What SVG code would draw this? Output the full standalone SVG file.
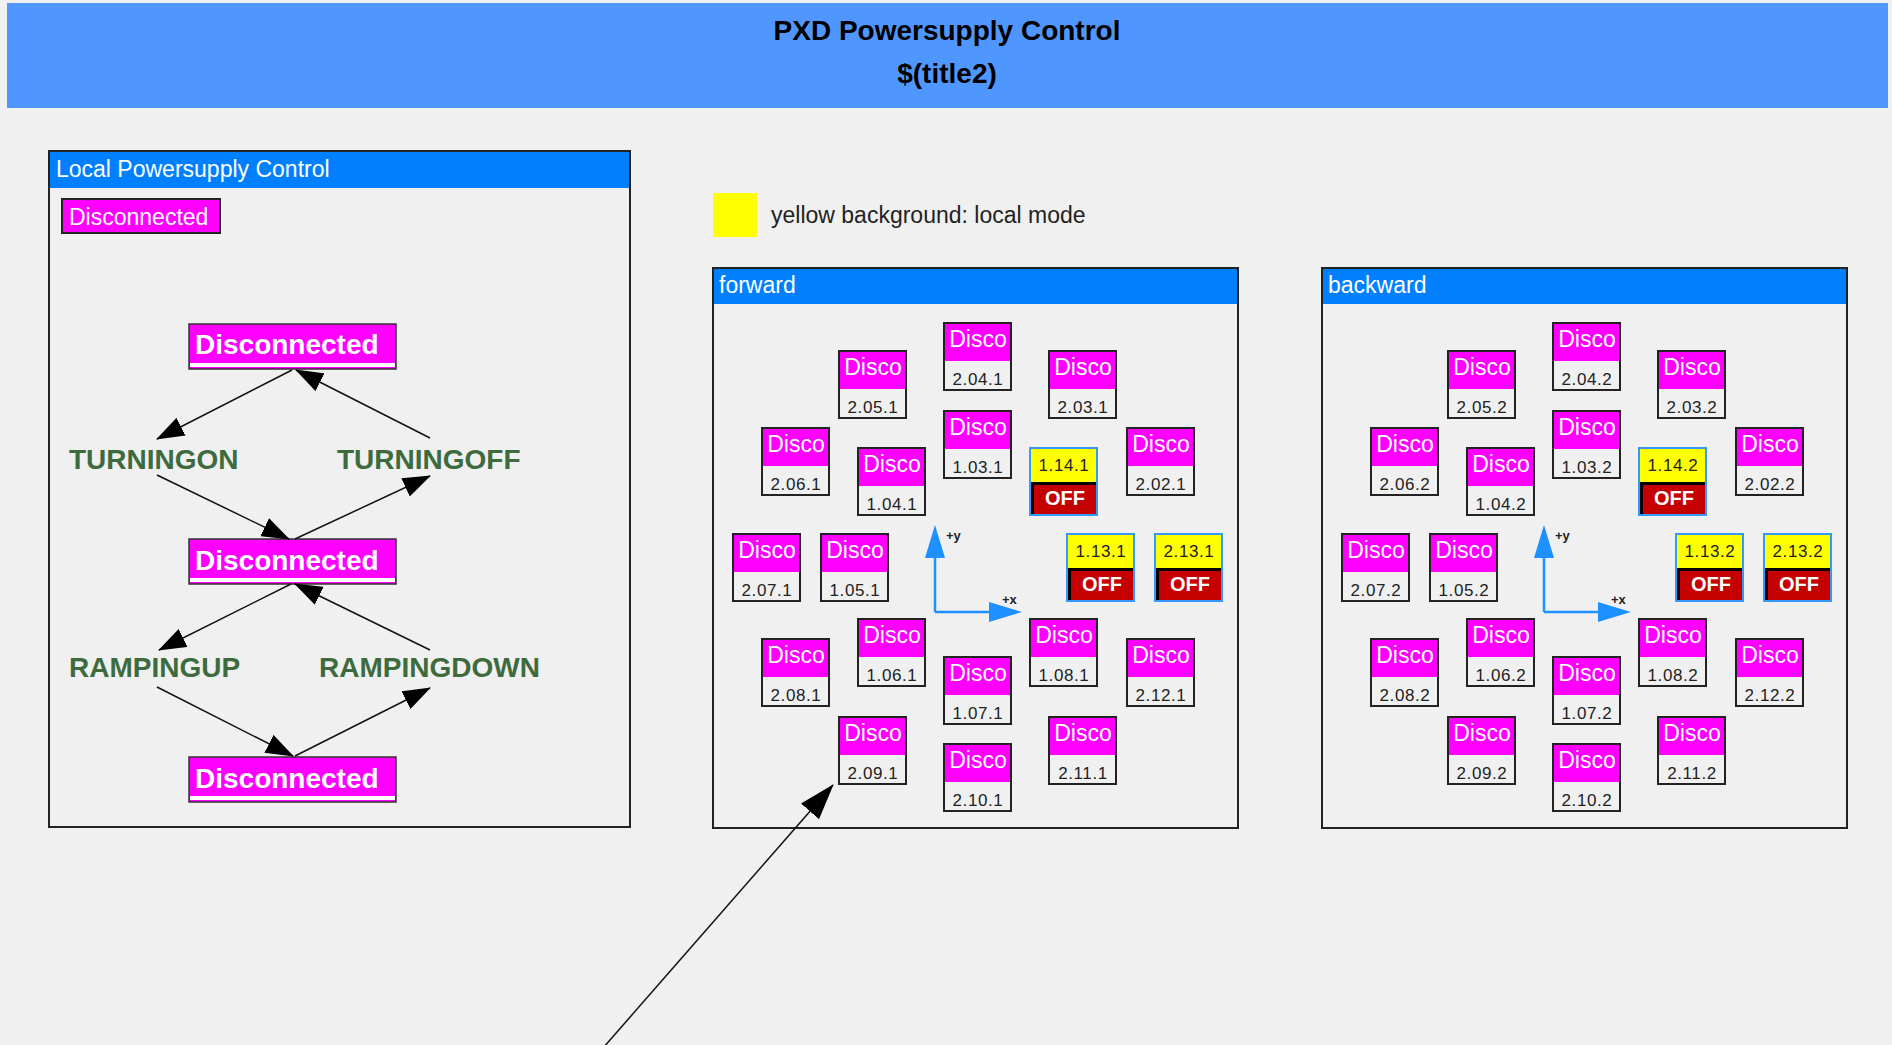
<svg xmlns="http://www.w3.org/2000/svg" xmlns:xlink="http://www.w3.org/1999/xlink" width="1892" height="1045" viewBox="0 0 1892 1045">
<style>
text{font-family:"Liberation Sans",Arial,sans-serif}
.frame{fill:none;stroke:#222;stroke-width:2}
.hdr{fill:#0080ff}
.hdrt{fill:#fff;font-size:23px}
.dt{fill:#fff;font-size:23px;text-anchor:middle}
.num{fill:#222;font-size:17px;text-anchor:middle;letter-spacing:0.6px}
.off{fill:#fff;font-size:20px;font-weight:bold;text-anchor:middle}
.state{fill:#3d6b3d;font-size:28px;font-weight:bold}
.big{fill:#fff;font-size:28px;font-weight:bold}
.conn{stroke:#111;stroke-width:1.5;fill:none}
.axis{stroke:#1e90ff;stroke-width:2.5;fill:none}
.axhead{fill:#1e90ff}
.axl{fill:#222;font-size:13px;font-weight:bold}
</style>
<defs>
<marker id="arr" markerUnits="userSpaceOnUse" markerWidth="28" markerHeight="20" viewBox="0 0 28 20" refX="27" refY="10" orient="auto"><path d="M0,0 L28,10 L0,20 z" fill="#000"/></marker>
<marker id="arrBig" markerUnits="userSpaceOnUse" markerWidth="36" markerHeight="24" viewBox="0 0 36 24" refX="35" refY="12" orient="auto"><path d="M0,0 L36,12 L0,24 z" fill="#000"/></marker>
<g id="disco"><rect x="1" y="1" width="67" height="67" fill="#f0f0f0" stroke="#222" stroke-width="2"/><rect x="2" y="2" width="65" height="37" fill="#ff00ff"/></g>
<g id="offbox"><rect x="1" y="1" width="67" height="67" fill="#ffff00" stroke="#3399ff" stroke-width="2"/><rect x="2" y="35" width="65" height="32" fill="#000"/><rect x="5" y="38" width="62" height="29" fill="#c40000"/></g>
<g id="bigbox"><rect x="189" y="0" width="207" height="45" fill="#ff00ff" stroke="#333" stroke-width="1.5"/><rect x="190" y="39" width="205" height="4" fill="#fff"/></g>
</defs>
<rect x="0" y="0" width="1892" height="1045" fill="#f0f0f0"/>
<g id="title">
<rect x="7" y="3" width="1881" height="105" fill="#5096ff"/>
<text x="947" y="40" text-anchor="middle" font-size="28" font-weight="bold" fill="#000">PXD Powersupply Control</text>
<text x="947" y="83" text-anchor="middle" font-size="28" font-weight="bold" fill="#000">$(title2)</text>
</g>
<g id="localPanel">
<rect class="frame" x="49" y="151" width="581" height="676"/>
<rect class="hdr" x="50" y="152" width="579" height="36"/>
<text class="hdrt" x="56" y="177">Local Powersupply Control</text>
</g>
<g id="localStatus">
<rect x="62" y="199" width="158" height="34" fill="#ff00ff" stroke="#222" stroke-width="2"/>
<text x="69" y="225" fill="#fff" font-size="23">Disconnected</text>
</g>
<g id="state1" transform="translate(0,324)"><use xlink:href="#bigbox"/><text class="big" x="195" y="30">Disconnected</text></g>
<g id="state2" transform="translate(0,539)"><use xlink:href="#bigbox"/><text class="big" x="195" y="31">Disconnected</text></g>
<g id="state3" transform="translate(0,757)"><use xlink:href="#bigbox"/><text class="big" x="195" y="31">Disconnected</text></g>
<g id="turningon"><text class="state" x="69" y="469">TURNINGON</text></g>
<g id="turningoff"><text class="state" x="337" y="469">TURNINGOFF</text></g>
<g id="rampingup"><text class="state" x="69" y="677">RAMPINGUP</text></g>
<g id="rampingdown"><text class="state" x="319" y="677">RAMPINGDOWN</text></g>
<g id="legend">
<rect x="713" y="193" width="44" height="44" fill="#ffff00"/>
<text x="771" y="223" fill="#222" font-size="23">yellow background: local mode</text>
</g>
<g id="forwardPanel">
<rect class="frame" x="713" y="268" width="525" height="560"/>
<rect class="hdr" x="714" y="269" width="523" height="35"/>
<text class="hdrt" x="719" y="293">forward</text>
</g>
<g id="backwardPanel">
<rect class="frame" x="1322" y="268" width="525" height="560"/>
<rect class="hdr" x="1323" y="269" width="523" height="35"/>
<text class="hdrt" x="1328" y="293">backward</text>
</g>
<g id="f-2.04.1" transform="translate(943,322)"><use xlink:href="#disco"/><text class="dt" x="35" y="25">Disco</text><text class="num" x="35" y="63">2.04.1</text></g>
<g id="f-2.05.1" transform="translate(838,350)"><use xlink:href="#disco"/><text class="dt" x="35" y="25">Disco</text><text class="num" x="35" y="63">2.05.1</text></g>
<g id="f-2.03.1" transform="translate(1048,350)"><use xlink:href="#disco"/><text class="dt" x="35" y="25">Disco</text><text class="num" x="35" y="63">2.03.1</text></g>
<g id="f-1.03.1" transform="translate(943,410)"><use xlink:href="#disco"/><text class="dt" x="35" y="25">Disco</text><text class="num" x="35" y="63">1.03.1</text></g>
<g id="f-2.06.1" transform="translate(761,427)"><use xlink:href="#disco"/><text class="dt" x="35" y="25">Disco</text><text class="num" x="35" y="63">2.06.1</text></g>
<g id="f-1.04.1" transform="translate(857,447)"><use xlink:href="#disco"/><text class="dt" x="35" y="25">Disco</text><text class="num" x="35" y="63">1.04.1</text></g>
<g id="f-1.14.1" transform="translate(1029,447)"><use xlink:href="#offbox"/><text class="num" x="35" y="24" fill="#111">1.14.1</text><text class="off" x="36" y="58">OFF</text></g>
<g id="f-2.02.1" transform="translate(1126,427)"><use xlink:href="#disco"/><text class="dt" x="35" y="25">Disco</text><text class="num" x="35" y="63">2.02.1</text></g>
<g id="f-2.07.1" transform="translate(732,533)"><use xlink:href="#disco"/><text class="dt" x="35" y="25">Disco</text><text class="num" x="35" y="63">2.07.1</text></g>
<g id="f-1.05.1" transform="translate(820,533)"><use xlink:href="#disco"/><text class="dt" x="35" y="25">Disco</text><text class="num" x="35" y="63">1.05.1</text></g>
<g id="f-1.13.1" transform="translate(1066,533)"><use xlink:href="#offbox"/><text class="num" x="35" y="24" fill="#111">1.13.1</text><text class="off" x="36" y="58">OFF</text></g>
<g id="f-2.13.1" transform="translate(1154,533)"><use xlink:href="#offbox"/><text class="num" x="35" y="24" fill="#111">2.13.1</text><text class="off" x="36" y="58">OFF</text></g>
<g id="f-1.06.1" transform="translate(857,618)"><use xlink:href="#disco"/><text class="dt" x="35" y="25">Disco</text><text class="num" x="35" y="63">1.06.1</text></g>
<g id="f-2.08.1" transform="translate(761,638)"><use xlink:href="#disco"/><text class="dt" x="35" y="25">Disco</text><text class="num" x="35" y="63">2.08.1</text></g>
<g id="f-1.07.1" transform="translate(943,656)"><use xlink:href="#disco"/><text class="dt" x="35" y="25">Disco</text><text class="num" x="35" y="63">1.07.1</text></g>
<g id="f-1.08.1" transform="translate(1029,618)"><use xlink:href="#disco"/><text class="dt" x="35" y="25">Disco</text><text class="num" x="35" y="63">1.08.1</text></g>
<g id="f-2.12.1" transform="translate(1126,638)"><use xlink:href="#disco"/><text class="dt" x="35" y="25">Disco</text><text class="num" x="35" y="63">2.12.1</text></g>
<g id="f-2.09.1" transform="translate(838,716)"><use xlink:href="#disco"/><text class="dt" x="35" y="25">Disco</text><text class="num" x="35" y="63">2.09.1</text></g>
<g id="f-2.10.1" transform="translate(943,743)"><use xlink:href="#disco"/><text class="dt" x="35" y="25">Disco</text><text class="num" x="35" y="63">2.10.1</text></g>
<g id="f-2.11.1" transform="translate(1048,716)"><use xlink:href="#disco"/><text class="dt" x="35" y="25">Disco</text><text class="num" x="35" y="63">2.11.1</text></g>
<g id="f-axes" transform="translate(935,612)">
<path class="axis" d="M0,0 V-56 M0,0 H56"/>
<path class="axhead" d="M0,-87 L-10,-54 L10,-54 z M87,0 L54,-10 L54,10 z"/>
<text class="axl" x="11" y="-72">+y</text><text class="axl" x="67" y="-8">+x</text>
</g>
<g id="b-2.04.2" transform="translate(1552,322)"><use xlink:href="#disco"/><text class="dt" x="35" y="25">Disco</text><text class="num" x="35" y="63">2.04.2</text></g>
<g id="b-2.05.2" transform="translate(1447,350)"><use xlink:href="#disco"/><text class="dt" x="35" y="25">Disco</text><text class="num" x="35" y="63">2.05.2</text></g>
<g id="b-2.03.2" transform="translate(1657,350)"><use xlink:href="#disco"/><text class="dt" x="35" y="25">Disco</text><text class="num" x="35" y="63">2.03.2</text></g>
<g id="b-1.03.2" transform="translate(1552,410)"><use xlink:href="#disco"/><text class="dt" x="35" y="25">Disco</text><text class="num" x="35" y="63">1.03.2</text></g>
<g id="b-2.06.2" transform="translate(1370,427)"><use xlink:href="#disco"/><text class="dt" x="35" y="25">Disco</text><text class="num" x="35" y="63">2.06.2</text></g>
<g id="b-1.04.2" transform="translate(1466,447)"><use xlink:href="#disco"/><text class="dt" x="35" y="25">Disco</text><text class="num" x="35" y="63">1.04.2</text></g>
<g id="b-1.14.2" transform="translate(1638,447)"><use xlink:href="#offbox"/><text class="num" x="35" y="24" fill="#111">1.14.2</text><text class="off" x="36" y="58">OFF</text></g>
<g id="b-2.02.2" transform="translate(1735,427)"><use xlink:href="#disco"/><text class="dt" x="35" y="25">Disco</text><text class="num" x="35" y="63">2.02.2</text></g>
<g id="b-2.07.2" transform="translate(1341,533)"><use xlink:href="#disco"/><text class="dt" x="35" y="25">Disco</text><text class="num" x="35" y="63">2.07.2</text></g>
<g id="b-1.05.2" transform="translate(1429,533)"><use xlink:href="#disco"/><text class="dt" x="35" y="25">Disco</text><text class="num" x="35" y="63">1.05.2</text></g>
<g id="b-1.13.2" transform="translate(1675,533)"><use xlink:href="#offbox"/><text class="num" x="35" y="24" fill="#111">1.13.2</text><text class="off" x="36" y="58">OFF</text></g>
<g id="b-2.13.2" transform="translate(1763,533)"><use xlink:href="#offbox"/><text class="num" x="35" y="24" fill="#111">2.13.2</text><text class="off" x="36" y="58">OFF</text></g>
<g id="b-1.06.2" transform="translate(1466,618)"><use xlink:href="#disco"/><text class="dt" x="35" y="25">Disco</text><text class="num" x="35" y="63">1.06.2</text></g>
<g id="b-2.08.2" transform="translate(1370,638)"><use xlink:href="#disco"/><text class="dt" x="35" y="25">Disco</text><text class="num" x="35" y="63">2.08.2</text></g>
<g id="b-1.07.2" transform="translate(1552,656)"><use xlink:href="#disco"/><text class="dt" x="35" y="25">Disco</text><text class="num" x="35" y="63">1.07.2</text></g>
<g id="b-1.08.2" transform="translate(1638,618)"><use xlink:href="#disco"/><text class="dt" x="35" y="25">Disco</text><text class="num" x="35" y="63">1.08.2</text></g>
<g id="b-2.12.2" transform="translate(1735,638)"><use xlink:href="#disco"/><text class="dt" x="35" y="25">Disco</text><text class="num" x="35" y="63">2.12.2</text></g>
<g id="b-2.09.2" transform="translate(1447,716)"><use xlink:href="#disco"/><text class="dt" x="35" y="25">Disco</text><text class="num" x="35" y="63">2.09.2</text></g>
<g id="b-2.10.2" transform="translate(1552,743)"><use xlink:href="#disco"/><text class="dt" x="35" y="25">Disco</text><text class="num" x="35" y="63">2.10.2</text></g>
<g id="b-2.11.2" transform="translate(1657,716)"><use xlink:href="#disco"/><text class="dt" x="35" y="25">Disco</text><text class="num" x="35" y="63">2.11.2</text></g>
<g id="b-axes" transform="translate(1544,612)">
<path class="axis" d="M0,0 V-56 M0,0 H56"/>
<path class="axhead" d="M0,-87 L-10,-54 L10,-54 z M87,0 L54,-10 L54,10 z"/>
<text class="axl" x="11" y="-72">+y</text><text class="axl" x="67" y="-8">+x</text>
</g>
<g id="connectors">
<line class="conn" x1="292" y1="370" x2="157" y2="439" marker-end="url(#arr)"/>
<line class="conn" x1="430" y1="438" x2="296" y2="370" marker-end="url(#arr)"/>
<line class="conn" x1="157" y1="475" x2="289" y2="539" marker-end="url(#arr)"/>
<line class="conn" x1="295" y1="539" x2="430" y2="476" marker-end="url(#arr)"/>
<line class="conn" x1="291" y1="584" x2="159" y2="650" marker-end="url(#arr)"/>
<line class="conn" x1="430" y1="650" x2="295" y2="584" marker-end="url(#arr)"/>
<line class="conn" x1="157" y1="687" x2="293" y2="756" marker-end="url(#arr)"/>
<line class="conn" x1="295" y1="756" x2="430" y2="688" marker-end="url(#arr)"/>
<line class="conn" x1="603" y1="1048" x2="833" y2="785" marker-end="url(#arrBig)"/>
</g>
</svg>
